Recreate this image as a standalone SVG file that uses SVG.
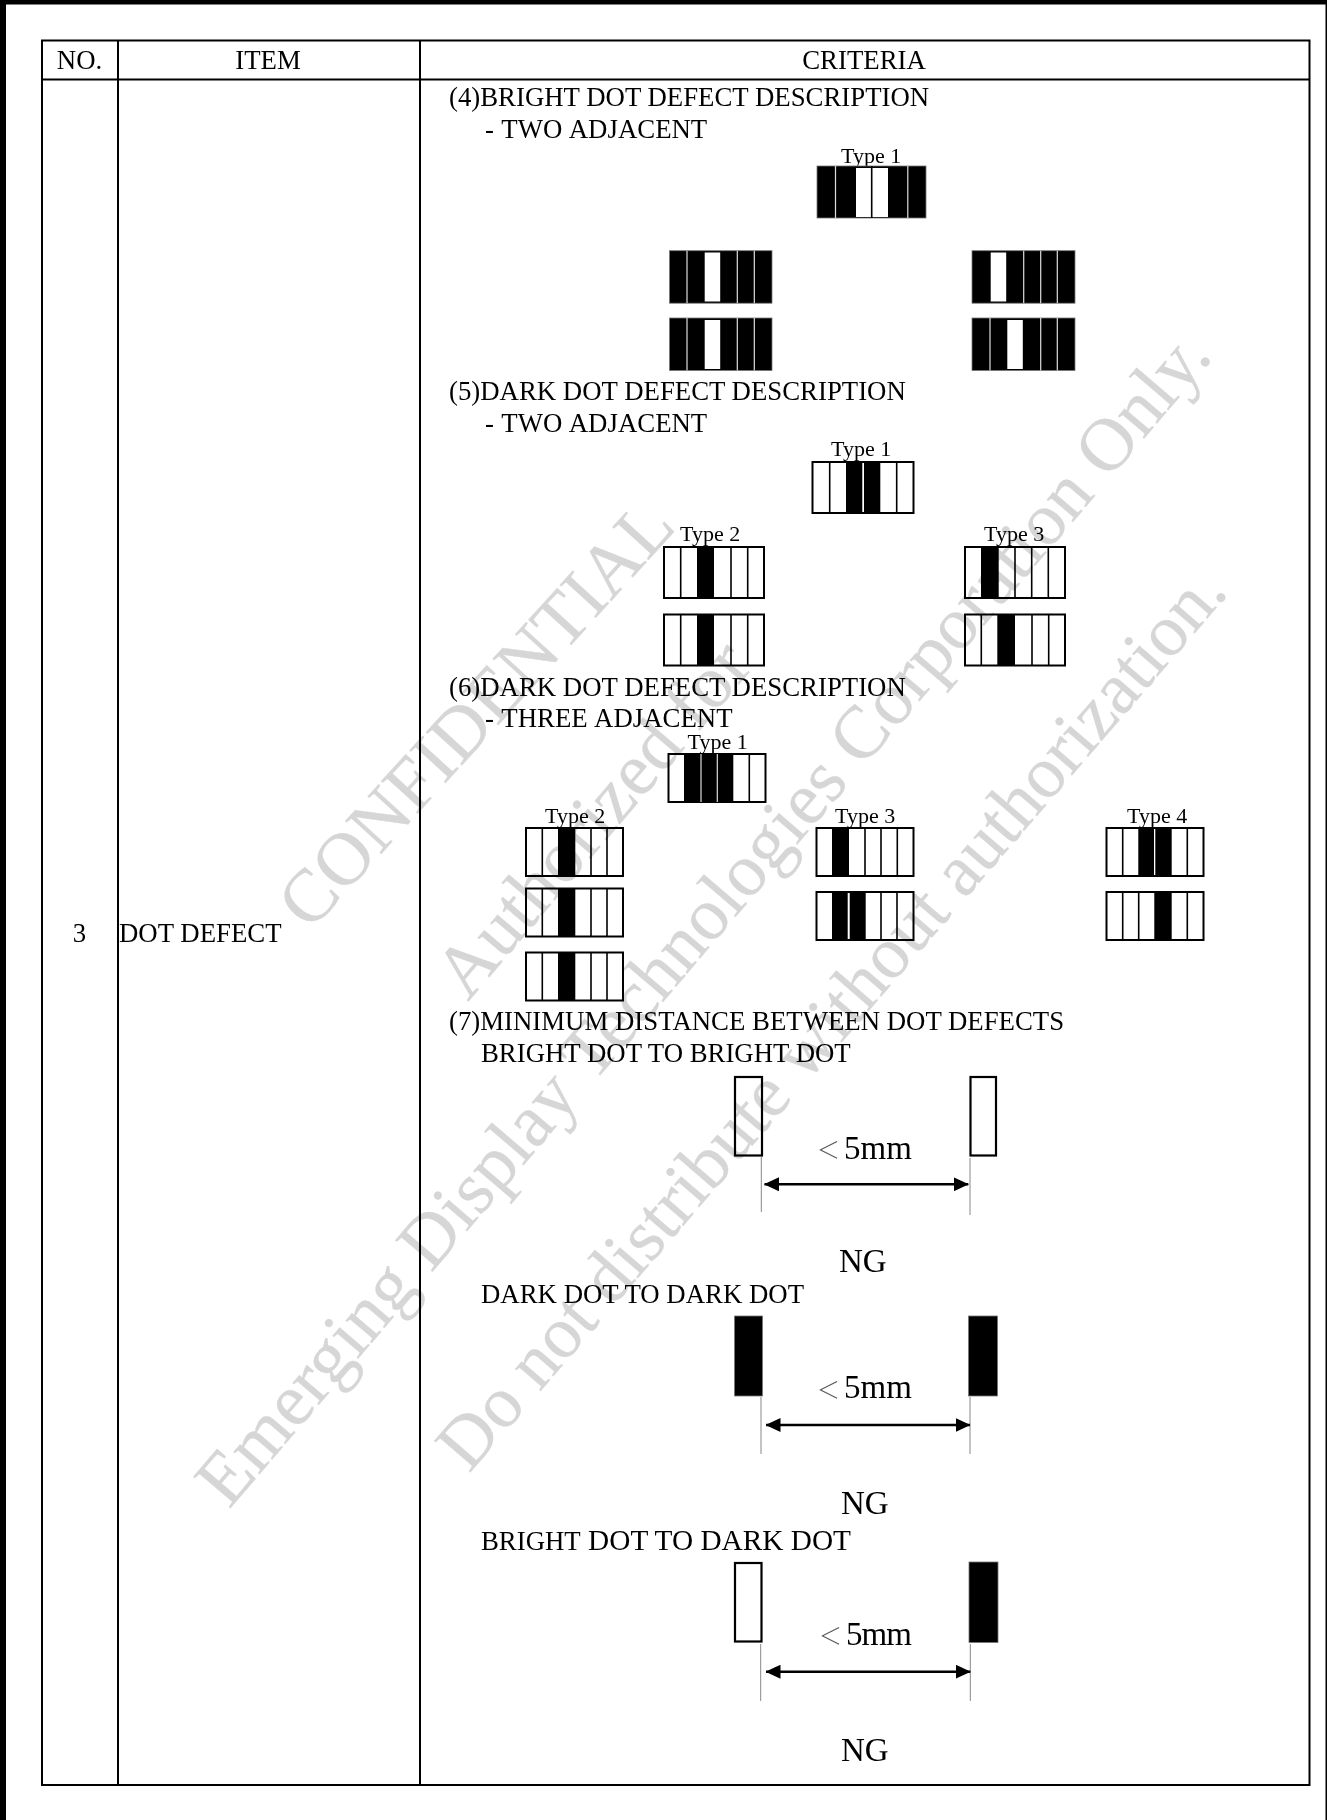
<svg xmlns="http://www.w3.org/2000/svg" width="1327" height="1820" viewBox="0 0 1327 1820">
<style>
text{font-family:"Liberation Serif","Times New Roman",serif;fill:#000}
.t{font-size:26.8px}
.ty{font-size:22px}
.big{font-size:33px}
.lt{font-family:"Noto Sans CJK SC",sans-serif;font-weight:300;font-size:23px;fill:#555}
.wm{font-size:74.5px;fill:#d6d6d6;stroke:#d6d6d6;stroke-width:.3}
#watermark{mix-blend-mode:multiply}
.grid{fill:none;stroke:#000;stroke-width:2}
.box{fill:#fff;stroke:#000;stroke-width:2}
.bk{fill:#000}
.dv{fill:none;stroke:#000;stroke-width:1.6}
.wl{fill:none;stroke:#ddd;stroke-width:1.2}
.bb{fill:#000;stroke:#777;stroke-width:.8}
.wr{fill:#fff}
.tk{fill:none;stroke:#888;stroke-width:1}
.dot{fill:#fff;stroke:#000;stroke-width:2.2}
.ln{fill:none;stroke:#000;stroke-width:2.6;marker-start:url(#ah);marker-end:url(#ah)}
</style>
<defs>
<marker id="ah" viewBox="0 0 15 14" refX="14.5" refY="7" markerUnits="userSpaceOnUse" markerWidth="15" markerHeight="14" orient="auto-start-reverse"><path d="M0 0L15 7L0 14Z" fill="#000"/></marker>
</defs>
<rect width="1327" height="1820" fill="#fff"/>
<g id="frame">
<rect x="0" y="0" width="1327" height="4.5" fill="#000"/>
<rect x="0" y="0" width="6" height="1820" fill="#000"/>
<rect x="1325.5" y="0" width="1.5" height="1820" fill="#000"/>
</g>
<g id="table">
<rect class="grid" x="42" y="40.5" width="1267.500" height="1744.5"/>
<path class="grid" d="M42 79.5H1309.500M118 40.5V1785M420 40.5V1785"/>
<text class="t" x="79.500" y="69" text-anchor="middle">NO.</text>
<text class="t" x="268" y="69" text-anchor="middle">ITEM</text>
<text class="t" x="864" y="69" text-anchor="middle">CRITERIA</text>
<text class="t" x="79.500" y="942" text-anchor="middle">3</text>
<text class="t" x="119" y="942">DOT DEFECT</text>
</g>
<g id="section4">
<text class="t" x="449" y="106">(4)BRIGHT DOT DEFECT DESCRIPTION</text>
<text class="t" x="485" y="137.500" word-spacing="1.2">- TWO ADJACENT</text>
<text class="ty" x="841" y="163">Type 1</text>
<g id="s4-t1"><rect class="bb" x="817" y="166" width="109" height="52"/><rect class="wr" x="856" y="168" width="32" height="49"/><path class="dv" d="M871.700 166V218"/><path class="wl" d="M835.500 166V218M907.800 166V218"/></g>
<g id="s4-a"><rect class="bb" x="669.500" y="250.700" width="102.500" height="52.500"/><rect class="wr" x="704.700" y="252.500" width="15.500" height="49"/><path class="wl" d="M687 250.700V303.200M737.300 250.700V303.200M754.300 250.700V303.200"/></g>
<g id="s4-b"><rect class="bb" x="669.500" y="318" width="102.500" height="52.500"/><rect class="wr" x="704.700" y="320" width="15.500" height="49"/><path class="wl" d="M687 318V370.500M737.300 318V370.500M754.300 318V370.500"/></g>
<g id="s4-c"><rect class="bb" x="972" y="250.700" width="103" height="52.500"/><rect class="wr" x="990.700" y="252.500" width="15.500" height="49"/><path class="wl" d="M1023.700 250.700V303.200M1040.700 250.700V303.200M1057.300 250.700V303.200"/></g>
<g id="s4-d"><rect class="bb" x="972" y="318" width="103" height="52.500"/><rect class="wr" x="1007.300" y="320" width="15.500" height="49"/><path class="wl" d="M990 318V370.500M1040.700 318V370.500M1057.300 318V370.500"/></g>
</g>
<g id="section5">
<text class="t" x="449" y="400">(5)DARK DOT DEFECT DESCRIPTION</text>
<text class="t" x="485" y="432" word-spacing="1.2">- TWO ADJACENT</text>
<text class="ty" x="831" y="456">Type 1</text>
<g id="s5-t1"><rect class="box" x="812.500" y="462" width="101" height="51"/><rect class="bk" x="846" y="462" width="16.300" height="51"/><rect class="bk" x="864" y="462" width="16.300" height="51"/><path class="dv" d="M829.700 462V513M896.700 462V513"/></g>
<text class="ty" x="680" y="541">Type 2</text>
<g id="s5-t2a"><rect class="box" x="664" y="547" width="100" height="51"/><rect class="bk" x="697" y="547" width="17" height="51"/><path class="dv" d="M680.700 547V598M731 547V598M747.700 547V598"/></g>
<g id="s5-t2b"><rect class="box" x="664" y="614.500" width="100" height="51"/><rect class="bk" x="697" y="614.500" width="17" height="51"/><path class="dv" d="M680.700 614.500V665.500M731 614.500V665.500M747.700 614.500V665.500"/></g>
<text class="ty" x="984" y="541">Type 3</text>
<g id="s5-t3a"><rect class="box" x="965" y="547" width="100" height="51"/><rect class="bk" x="981" y="547" width="17.700" height="51"/><path class="dv" d="M1015 547V598M1031.700 547V598M1048.300 547V598"/></g>
<g id="s5-t3b"><rect class="box" x="965" y="614.500" width="100" height="51"/><rect class="bk" x="997.300" y="614.500" width="17.700" height="51"/><path class="dv" d="M981.300 614.500V665.500M1032 614.500V665.500M1048.700 614.500V665.500"/></g>
</g>
<g id="section6">
<text class="t" x="449" y="696">(6)DARK DOT DEFECT DESCRIPTION</text>
<text class="t" x="485" y="727" word-spacing="1.2">- THREE ADJACENT</text>
<text class="ty" x="687.500" y="749">Type 1</text>
<g id="s6-t1"><rect class="box" x="668.500" y="754" width="97" height="48"/><rect class="bk" x="684" y="754" width="49.300" height="48"/><path class="wl" d="M701 754V802M717.300 754V802"/><path class="dv" d="M749.300 754V802"/></g>
<text class="ty" x="545" y="823">Type 2</text>
<g id="s6-t2a"><rect class="box" x="526" y="828" width="97" height="48"/><rect class="bk" x="558" y="828" width="17.300" height="48"/><path class="dv" d="M542.300 828V876M591 828V876M607 828V876"/></g>
<g id="s6-t2b"><rect class="box" x="526" y="888.500" width="97" height="48"/><rect class="bk" x="558" y="888.500" width="17.300" height="48"/><path class="dv" d="M542.300 888.500V936.500M591 888.500V936.500M607 888.500V936.500"/></g>
<g id="s6-t2c"><rect class="box" x="526" y="952.500" width="97" height="48"/><rect class="bk" x="558" y="952.500" width="17.300" height="48"/><path class="dv" d="M542.300 952.500V1000.500M591 952.500V1000.500M607 952.500V1000.500"/></g>
<text class="ty" x="835" y="823">Type 3</text>
<g id="s6-t3a"><rect class="box" x="816.500" y="828" width="97" height="48"/><rect class="bk" x="832" y="828" width="17" height="48"/><path class="dv" d="M865 828V876M881 828V876M897.300 828V876"/></g>
<g id="s6-t3b"><rect class="box" x="816.500" y="892" width="97" height="48"/><rect class="bk" x="832" y="892" width="15.700" height="48"/><rect class="bk" x="849.700" y="892" width="16" height="48"/><path class="dv" d="M881 892V940M897 892V940"/></g>
<text class="ty" x="1127" y="823">Type 4</text>
<g id="s6-t4a"><rect class="box" x="1106.500" y="828" width="97" height="48"/><rect class="bk" x="1138.300" y="828" width="15.700" height="48"/><rect class="bk" x="1155.300" y="828" width="16.400" height="48"/><path class="dv" d="M1122.700 828V876M1187.300 828V876"/></g>
<g id="s6-t4b"><rect class="box" x="1106.500" y="892" width="97" height="48"/><rect class="bk" x="1154.300" y="892" width="17.400" height="48"/><path class="dv" d="M1122.700 892V940M1138.700 892V940M1187.300 892V940"/></g>
</g>
<g id="section7">
<text class="t" x="449" y="1029.500">(7)MINIMUM DISTANCE BETWEEN DOT DEFECTS</text>
<text class="t" x="481" y="1061.500">BRIGHT DOT TO BRIGHT DOT</text>
<g id="d1-l"><rect class="dot" x="735" y="1077" width="27" height="78.500"/></g>
<g id="d1-r"><rect class="dot" x="970.500" y="1077" width="25.500" height="78.500"/></g>
<text class="lt" x="817" y="1158">＜</text>
<text class="big" x="844" y="1159">5mm</text>
<text class="big" x="839" y="1272">NG</text>
<text class="t" x="481" y="1303">DARK DOT TO DARK DOT</text>
<g id="d2-l"><rect class="bb" x="734.500" y="1316" width="28" height="80"/></g>
<g id="d2-r"><rect class="bb" x="968.500" y="1316" width="29" height="80"/></g>
<text class="lt" x="817" y="1398">＜</text>
<text class="big" x="844" y="1398">5mm</text>
<text class="big" x="841" y="1514">NG</text>
<text class="t" x="481" y="1550">BRIGHT<tspan font-size="29.3"> DOT TO DARK DOT</tspan></text>
<g id="d3-l"><rect class="dot" x="735" y="1563" width="26.500" height="78.500"/></g>
<g id="d3-r"><rect class="bb" x="969" y="1562" width="29" height="80.500"/></g>
<text class="lt" x="819" y="1644">＜</text>
<text class="big" x="846" y="1645" letter-spacing="-1">5mm</text>
<text class="big" x="841" y="1761">NG</text>
</g>
<g id="connectors">
<path class="tk" d="M761.300 1157V1212M970 1158V1215M761 1397V1454M970 1397V1454M760.700 1644V1701M970.300 1644V1701"/>
<path class="ln" d="M764.500 1184.300H968.300"/>
<path class="ln" d="M766 1425H970"/>
<path class="ln" d="M766 1671.700H970.300"/>
</g>
<g id="watermark">
<text class="wm" transform="translate(310 932) rotate(-47.700)">CONFIDENTIAL</text>
<text class="wm" transform="translate(468 1002) rotate(-49.500)">Authorized for</text>
<text class="wm" transform="translate(229 1510) rotate(-49.500)">Emerging Display Technologies Corporation Only.</text>
<text class="wm" style="font-size:73.400px" transform="translate(469 1474) rotate(-49.200)">Do not distribute without authorization.</text>
</g>
</svg>
